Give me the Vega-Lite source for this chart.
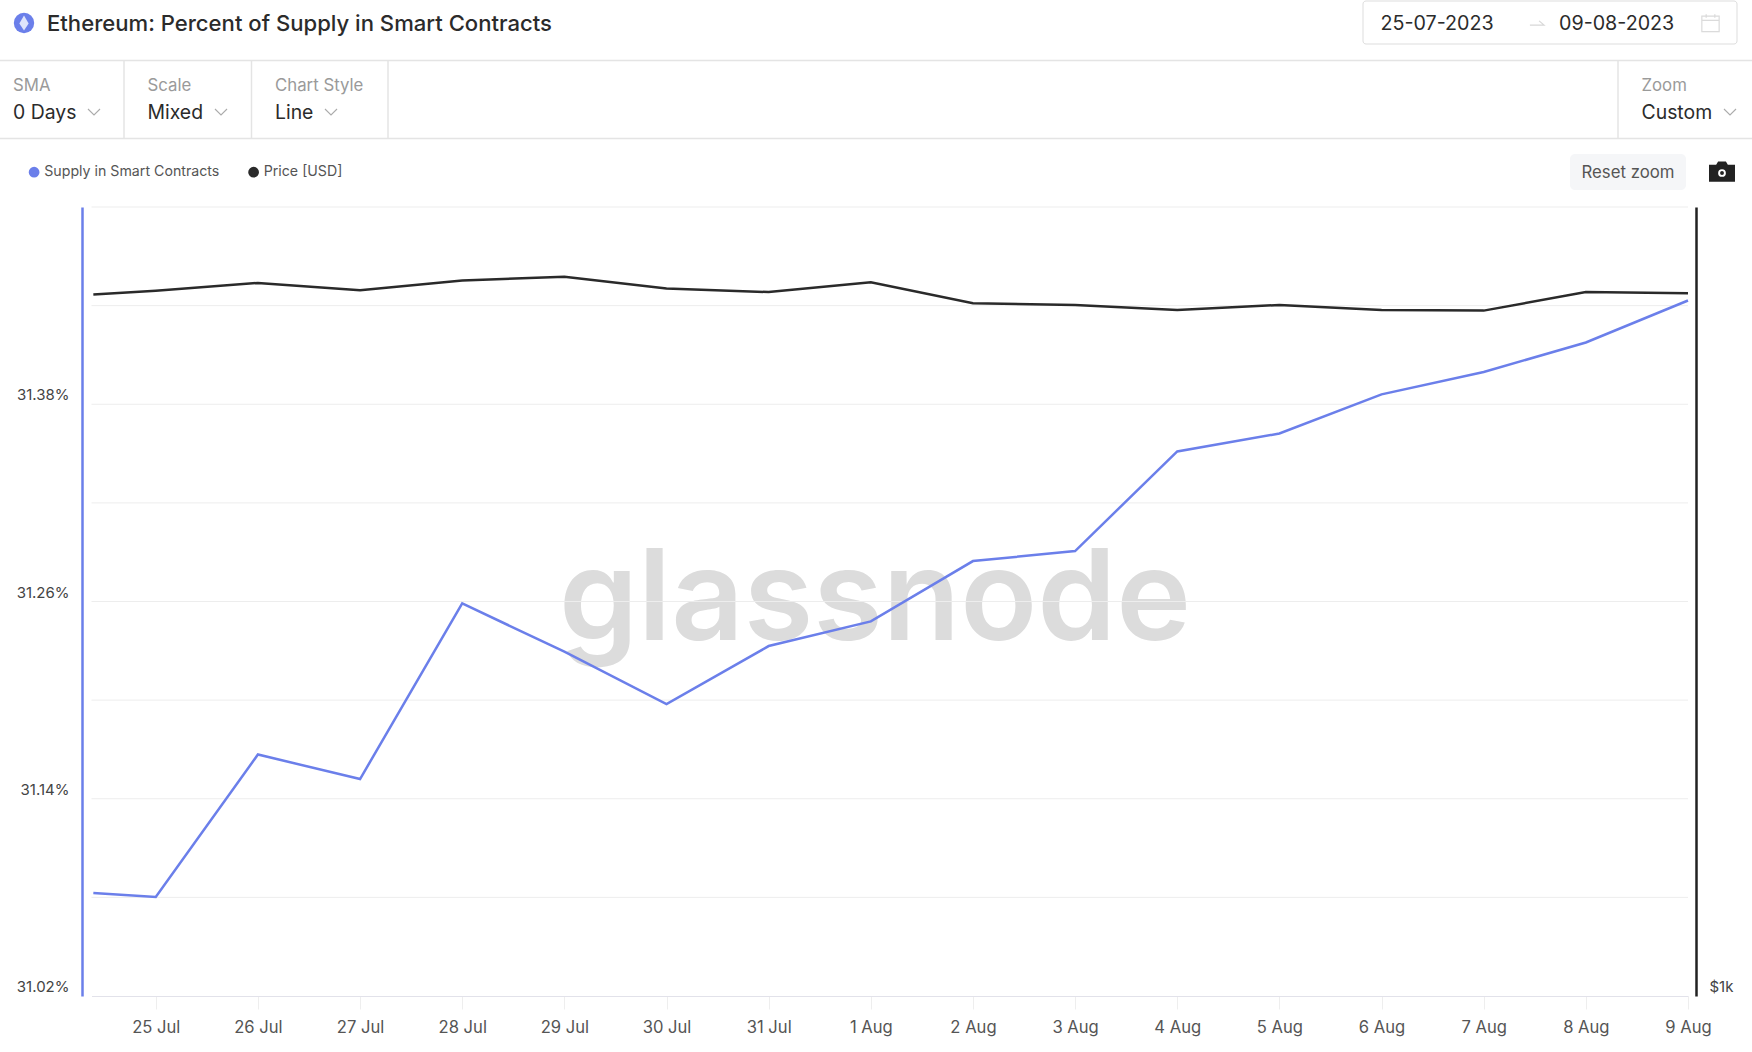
{"$schema":"https://vega.github.io/schema/vega-lite/v6.json","width":1752,"height":1052,"autosize":{"type":"none"},"padding":0,"background":"white","config":{"view":{"stroke":null},"font":"Inter"},
"title":{"text":"Ethereum: Percent of Supply in Smart Contracts","anchor":"start","frame":"group","offset":-53,"dx":47,"baseline":"alphabetic","font":"Inter","fontSize":22.1,"fontWeight":500,"color":"#2b2b2b"},
"datasets":{"series":[
{"date":"2023-07-24T09:20:00Z","series":"Supply in Smart Contracts","value":31.0826},
{"date":"2023-07-25T00:00:00Z","series":"Supply in Smart Contracts","value":31.0802},
{"date":"2023-07-26T00:00:00Z","series":"Supply in Smart Contracts","value":31.1669},
{"date":"2023-07-27T00:00:00Z","series":"Supply in Smart Contracts","value":31.152},
{"date":"2023-07-28T00:00:00Z","series":"Supply in Smart Contracts","value":31.2588},
{"date":"2023-07-29T00:00:00Z","series":"Supply in Smart Contracts","value":31.2295},
{"date":"2023-07-30T00:00:00Z","series":"Supply in Smart Contracts","value":31.1976},
{"date":"2023-07-31T00:00:00Z","series":"Supply in Smart Contracts","value":31.2329},
{"date":"2023-08-01T00:00:00Z","series":"Supply in Smart Contracts","value":31.2479},
{"date":"2023-08-02T00:00:00Z","series":"Supply in Smart Contracts","value":31.2846},
{"date":"2023-08-03T00:00:00Z","series":"Supply in Smart Contracts","value":31.2907},
{"date":"2023-08-04T00:00:00Z","series":"Supply in Smart Contracts","value":31.3513},
{"date":"2023-08-05T00:00:00Z","series":"Supply in Smart Contracts","value":31.3622},
{"date":"2023-08-06T00:00:00Z","series":"Supply in Smart Contracts","value":31.386},
{"date":"2023-08-07T00:00:00Z","series":"Supply in Smart Contracts","value":31.3996},
{"date":"2023-08-08T00:00:00Z","series":"Supply in Smart Contracts","value":31.4176},
{"date":"2023-08-09T00:00:00Z","series":"Supply in Smart Contracts","value":31.4431},
{"date":"2023-07-24T09:20:00Z","series":"Price [USD]","value":1852},
{"date":"2023-07-25T00:00:00Z","series":"Price [USD]","value":1858},
{"date":"2023-07-26T00:00:00Z","series":"Price [USD]","value":1871},
{"date":"2023-07-27T00:00:00Z","series":"Price [USD]","value":1859},
{"date":"2023-07-28T00:00:00Z","series":"Price [USD]","value":1875},
{"date":"2023-07-29T00:00:00Z","series":"Price [USD]","value":1881},
{"date":"2023-07-30T00:00:00Z","series":"Price [USD]","value":1862},
{"date":"2023-07-31T00:00:00Z","series":"Price [USD]","value":1856},
{"date":"2023-08-01T00:00:00Z","series":"Price [USD]","value":1872},
{"date":"2023-08-02T00:00:00Z","series":"Price [USD]","value":1838},
{"date":"2023-08-03T00:00:00Z","series":"Price [USD]","value":1835},
{"date":"2023-08-04T00:00:00Z","series":"Price [USD]","value":1827},
{"date":"2023-08-05T00:00:00Z","series":"Price [USD]","value":1835},
{"date":"2023-08-06T00:00:00Z","series":"Price [USD]","value":1827},
{"date":"2023-08-07T00:00:00Z","series":"Price [USD]","value":1826},
{"date":"2023-08-08T00:00:00Z","series":"Price [USD]","value":1856},
{"date":"2023-08-09T00:00:00Z","series":"Price [USD]","value":1854}
],"grid":[{"level":31.08,"from":"2023-07-24T08:54:00Z","to":"2023-08-09T00:00:00Z"},{"level":31.14,"from":"2023-07-24T08:54:00Z","to":"2023-08-09T00:00:00Z"},{"level":31.2,"from":"2023-07-24T08:54:00Z","to":"2023-08-09T00:00:00Z"},{"level":31.26,"from":"2023-07-24T08:54:00Z","to":"2023-08-09T00:00:00Z"},{"level":31.32,"from":"2023-07-24T08:54:00Z","to":"2023-08-09T00:00:00Z"},{"level":31.38,"from":"2023-07-24T08:54:00Z","to":"2023-08-09T00:00:00Z"},{"level":31.44,"from":"2023-07-24T08:54:00Z","to":"2023-08-09T00:00:00Z"},{"level":31.5,"from":"2023-07-24T08:54:00Z","to":"2023-08-09T00:00:00Z"}]},
"resolve":{"scale":{"y":"independent"}},
"layer":[
{"data":{"values":[{"label":"glassnode"}]},"mark":{"type":"text","align":"center","baseline":"alphabetic","font":"Inter","fontSize":126.5,"fontWeight":600,"color":"#dcdcdc"},"encoding":{"text":{"field":"label"},"x":{"value":875},"y":{"value":640}}},
{"data":{"name":"grid"},"mark":{"type":"rule","color":"#ededed","strokeWidth":1},"encoding":{
"x":{"field":"from","type":"temporal","scale":{"type":"utc","domain":["2023-07-24T08:54:00Z","2023-08-09T00:00:00Z"],"range":[91.5,1688]},"axis":{"orient":"bottom","offset":-56,"title":null,"grid":false,"format":"%-d %b","tickCount":{"interval":"day","step":1},"labelFont":"Inter","labelFontSize":16.6,"labelColor":"#555555","labelPadding":10,"labelFlush":false,"labelBound":false,"labelOverlap":false,"domainColor":"#e2e2ea","tickColor":"#eeeeee","tickSize":13}},
"x2":{"field":"to"},
"y":{"field":"level","type":"quantitative","scale":{"domain":[31.02,31.5],"range":[996,207],"zero":false,"nice":false},"axis":{"orient":"left","offset":-82,"title":null,"grid":false,"values":[31.02,31.14,31.26,31.38],"labelExpr":"format(datum.value,'.2f')+'%'","labelFont":"Inter","labelFontSize":15,"labelColor":"#444444","labelOffset":-9.5,"labelPadding":13,"ticks":false,"domainColor":"#6b7fea","domainWidth":2.5}}}},
{"data":{"name":"series"},"transform":[{"filter":"datum.series==='Supply in Smart Contracts'"}],"mark":{"type":"line","strokeWidth":2.5},"encoding":{
"x":{"field":"date","type":"temporal"},
"y":{"field":"value","type":"quantitative","scale":{"domain":[31.02,31.5],"range":[996,207],"zero":false,"nice":false},"axis":null},
"color":{"field":"series","type":"nominal","scale":{"domain":["Supply in Smart Contracts","Price [USD]"],"range":["#6b7fea","#2a2a2a"]},"legend":{"orient":"none","legendX":27,"legendY":165,"direction":"horizontal","title":null,"symbolType":"circle","symbolSize":28,"symbolStrokeWidth":5.5,"labelFont":"Inter","labelFontSize":14.2,"labelColor":"#555555","labelOffset":3,"labelLimit":400,"columnPadding":19.5}}}},
{"data":{"name":"series"},"transform":[{"filter":"datum.series==='Price [USD]'"}],"mark":{"type":"line","strokeWidth":2.5},"encoding":{
"x":{"field":"date","type":"temporal"},
"y":{"field":"value","type":"quantitative","scale":{"type":"log","domain":[1000,2000],"range":[996,207],"nice":false},"axis":{"orient":"right","offset":-56,"title":null,"grid":false,"values":[1000],"labelExpr":"'$1k'","labelFont":"Inter","labelFontSize":15,"labelColor":"#444444","labelOffset":-9.5,"labelPadding":13,"ticks":false,"domainColor":"#222222","domainWidth":2.5}},
"color":{"field":"series","type":"nominal"}}},
{"data":{"values":[{"id":"a"}]},"mark":{"type":"rect","fill":"white","stroke":"#dddddd","cornerRadius":3},"encoding":{"x":{"value":1363},"x2":{"value":1737},"y":{"value":1},"y2":{"value":44}}},
{"data":{"values":[{"id":"b"}]},"mark":{"type":"rect","fill":"#f5f6f8","cornerRadius":5},"encoding":{"x":{"value":1570},"x2":{"value":1686},"y":{"value":154},"y2":{"value":190}}},
{"data":{"values":[{"id":"t"}]},"mark":{"type":"rule","color":"#e4e4e4","strokeWidth":1.5},"encoding":{"x":{"value":0},"x2":{"value":1752},"y":{"value":60.5}}},
{"data":{"values":[{"id":"b"}]},"mark":{"type":"rule","color":"#e4e4e4","strokeWidth":1.5},"encoding":{"x":{"value":0},"x2":{"value":1752},"y":{"value":138.5}}},
{"data":{"values":[{"id":"v1"}]},"mark":{"type":"rule","color":"#e4e4e4","strokeWidth":1.5},"encoding":{"x":{"value":124},"y":{"value":60},"y2":{"value":138}}},
{"data":{"values":[{"id":"v2"}]},"mark":{"type":"rule","color":"#e4e4e4","strokeWidth":1.5},"encoding":{"x":{"value":251.5},"y":{"value":60},"y2":{"value":138}}},
{"data":{"values":[{"id":"v3"}]},"mark":{"type":"rule","color":"#e4e4e4","strokeWidth":1.5},"encoding":{"x":{"value":388},"y":{"value":60},"y2":{"value":138}}},
{"data":{"values":[{"id":"v4"}]},"mark":{"type":"rule","color":"#e4e4e4","strokeWidth":1.5},"encoding":{"x":{"value":1618},"y":{"value":60},"y2":{"value":138}}},
{"data":{"values":[{"label":"SMA"}]},"mark":{"type":"text","align":"left","baseline":"middle","font":"Inter","fontSize":16.8,"color":"#9a9a9a"},"encoding":{"text":{"field":"label"},"x":{"value":13},"y":{"value":85.5}}},
{"data":{"values":[{"label":"Scale"}]},"mark":{"type":"text","align":"left","baseline":"middle","font":"Inter","fontSize":16.8,"color":"#9a9a9a"},"encoding":{"text":{"field":"label"},"x":{"value":147.5},"y":{"value":85.5}}},
{"data":{"values":[{"label":"Chart Style"}]},"mark":{"type":"text","align":"left","baseline":"middle","font":"Inter","fontSize":16.8,"color":"#9a9a9a"},"encoding":{"text":{"field":"label"},"x":{"value":275},"y":{"value":85.5}}},
{"data":{"values":[{"label":"Zoom"}]},"mark":{"type":"text","align":"left","baseline":"middle","font":"Inter","fontSize":16.8,"color":"#9a9a9a"},"encoding":{"text":{"field":"label"},"x":{"value":1641.5},"y":{"value":85.5}}},
{"data":{"values":[{"label":"0 Days"}]},"mark":{"type":"text","align":"left","baseline":"middle","font":"Inter","fontSize":19.4,"color":"#2b2b2b"},"encoding":{"text":{"field":"label"},"x":{"value":13},"y":{"value":113}}},
{"data":{"values":[{"label":"Mixed"}]},"mark":{"type":"text","align":"left","baseline":"middle","font":"Inter","fontSize":19.4,"color":"#2b2b2b"},"encoding":{"text":{"field":"label"},"x":{"value":147.5},"y":{"value":113}}},
{"data":{"values":[{"label":"Line"}]},"mark":{"type":"text","align":"left","baseline":"middle","font":"Inter","fontSize":19.4,"color":"#2b2b2b"},"encoding":{"text":{"field":"label"},"x":{"value":275},"y":{"value":113}}},
{"data":{"values":[{"label":"Custom"}]},"mark":{"type":"text","align":"left","baseline":"middle","font":"Inter","fontSize":19.4,"color":"#2b2b2b"},"encoding":{"text":{"field":"label"},"x":{"value":1641.5},"y":{"value":113}}},
{"data":{"values":[{"label":"25-07-2023"}]},"mark":{"type":"text","align":"left","baseline":"middle","font":"Inter","fontSize":19.7,"color":"#2b2b2b"},"encoding":{"text":{"field":"label"},"x":{"value":1380.5},"y":{"value":24}}},
{"data":{"values":[{"label":"09-08-2023"}]},"mark":{"type":"text","align":"left","baseline":"middle","font":"Inter","fontSize":19.7,"color":"#2b2b2b"},"encoding":{"text":{"field":"label"},"x":{"value":1559},"y":{"value":24}}},
{"data":{"values":[{"label":"Reset zoom"}]},"mark":{"type":"text","align":"left","baseline":"middle","font":"Inter","fontSize":16.8,"color":"#555555"},"encoding":{"text":{"field":"label"},"x":{"value":1581.5},"y":{"value":173}}},
{"data":{"values":[{"id":"arrow"}]},"mark":{"type":"point","shape":"M-1,0.3H1L0.3,-0.3","filled":false,"stroke":"#c8c8c8","strokeWidth":1.2,"size":200},"encoding":{"x":{"value":1537},"y":{"value":23}}},
{"data":{"values":[{"id":"cal"}]},"mark":{"type":"point","shape":"M-1,-0.8H1V1H-1ZM-1,-0.3H1M-0.5,-1V-0.6M0.5,-1V-0.6","filled":false,"stroke":"#cccccc","strokeWidth":1.2,"size":300},"encoding":{"x":{"value":1710.5},"y":{"value":23}}},
{"data":{"values":[{"id":"c1"}]},"mark":{"type":"point","shape":"M-1,-0.5L0,0.5L1,-0.5","filled":false,"stroke":"#888888","strokeWidth":1.1,"size":144},"encoding":{"x":{"value":94},"y":{"value":112}}},
{"data":{"values":[{"id":"c2"}]},"mark":{"type":"point","shape":"M-1,-0.5L0,0.5L1,-0.5","filled":false,"stroke":"#888888","strokeWidth":1.1,"size":144},"encoding":{"x":{"value":221},"y":{"value":112}}},
{"data":{"values":[{"id":"c3"}]},"mark":{"type":"point","shape":"M-1,-0.5L0,0.5L1,-0.5","filled":false,"stroke":"#888888","strokeWidth":1.1,"size":144},"encoding":{"x":{"value":331},"y":{"value":112}}},
{"data":{"values":[{"id":"c4"}]},"mark":{"type":"point","shape":"M-1,-0.5L0,0.5L1,-0.5","filled":false,"stroke":"#888888","strokeWidth":1.1,"size":144},"encoding":{"x":{"value":1730},"y":{"value":112}}},
{"data":{"values":[{"id":"cam"}]},"mark":{"type":"point","shape":"M-1,-0.55H-0.45L-0.3,-0.8H0.3L0.45,-0.55H1V0.75H-1Z","filled":true,"fill":"#222222","opacity":1,"size":676},"encoding":{"x":{"value":1722},"y":{"value":172}}},
{"data":{"values":[{"id":"lens"}]},"mark":{"type":"point","shape":"circle","filled":true,"fill":"white","opacity":1,"size":60},"encoding":{"x":{"value":1722},"y":{"value":173}}},
{"data":{"values":[{"id":"lens2"}]},"mark":{"type":"point","shape":"circle","filled":true,"fill":"#222222","opacity":1,"size":15},"encoding":{"x":{"value":1722},"y":{"value":173}}},
{"data":{"values":[{"id":"eth"}]},"mark":{"type":"point","shape":"circle","filled":true,"fill":"#6b7fea","opacity":1,"size":415},"encoding":{"x":{"value":24},"y":{"value":23}}},
{"data":{"values":[{"id":"eth2"}]},"mark":{"type":"point","shape":"M0,-1L0.62,0.05L0,1L-0.62,0.05Z","filled":true,"fill":"#dfe4fb","opacity":1,"size":225},"encoding":{"x":{"value":24},"y":{"value":23}}}
]}
